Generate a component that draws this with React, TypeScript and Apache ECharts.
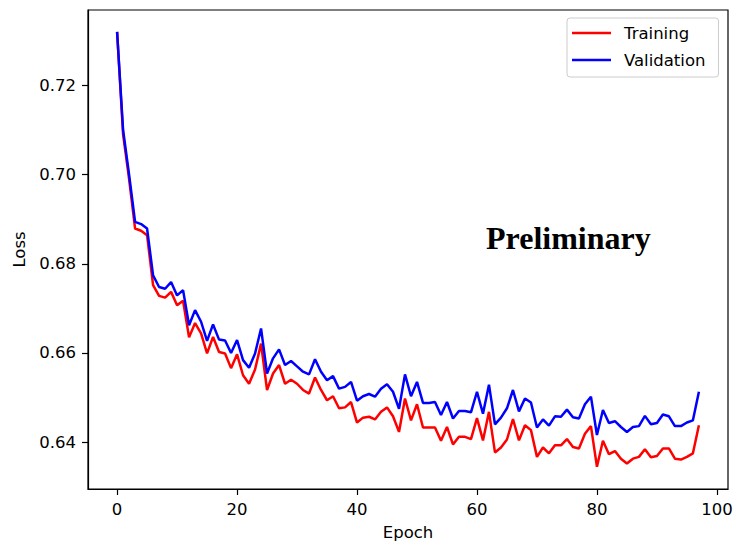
import React, { useEffect, useRef } from "react";
import * as echarts from "echarts";

const trainingLoss = [
  0.7320, 0.7090, 0.6990, 0.6879, 0.6874, 0.6864, 0.6752, 0.6728, 0.6724, 0.6737,
  0.6707, 0.6717, 0.6635, 0.6667, 0.6644, 0.6599, 0.6636, 0.6602, 0.6599, 0.6566,
  0.6597, 0.6550, 0.6531, 0.6563, 0.6621, 0.6517, 0.6554, 0.6573, 0.6531, 0.6540,
  0.6531, 0.6517, 0.6509, 0.6545, 0.6517, 0.6494, 0.6503, 0.6476, 0.6478, 0.6490,
  0.6444, 0.6455, 0.6457, 0.6451, 0.6468, 0.6478, 0.6458, 0.6423, 0.6498, 0.6449,
  0.6485, 0.6433, 0.6433, 0.6433, 0.6403, 0.6434, 0.6395, 0.6412, 0.6412, 0.6407,
  0.6454, 0.6404, 0.6468, 0.6377, 0.6388, 0.6406, 0.6452, 0.6404, 0.6438, 0.6427,
  0.6367, 0.6388, 0.6375, 0.6393, 0.6393, 0.6407, 0.6389, 0.6386, 0.6419, 0.6436,
  0.6345, 0.6403, 0.6373, 0.6380, 0.6363, 0.6352, 0.6363, 0.6367, 0.6384, 0.6366,
  0.6369, 0.6386, 0.6386, 0.6363, 0.6361, 0.6367, 0.6375, 0.6438,
];

const validationLoss = [
  0.7320, 0.7100, 0.7000, 0.6894, 0.6889, 0.6879, 0.6774, 0.6748, 0.6744, 0.6759,
  0.6729, 0.6741, 0.6662, 0.6696, 0.6670, 0.6627, 0.6664, 0.6630, 0.6628, 0.6600,
  0.6629, 0.6584, 0.6567, 0.6599, 0.6655, 0.6554, 0.6588, 0.6608, 0.6573, 0.6582,
  0.6570, 0.6558, 0.6552, 0.6586, 0.6558, 0.6539, 0.6548, 0.6520, 0.6524, 0.6535,
  0.6493, 0.6503, 0.6508, 0.6502, 0.6520, 0.6530, 0.6513, 0.6475, 0.6552, 0.6503,
  0.6535, 0.6488, 0.6488, 0.6490, 0.6461, 0.6490, 0.6453, 0.6470, 0.6470, 0.6467,
  0.6513, 0.6464, 0.6529, 0.6440, 0.6455, 0.6476, 0.6517, 0.6469, 0.6498, 0.6489,
  0.6433, 0.6451, 0.6437, 0.6458, 0.6457, 0.6473, 0.6456, 0.6453, 0.6485, 0.6502,
  0.6416, 0.6472, 0.6443, 0.6447, 0.6434, 0.6423, 0.6434, 0.6436, 0.6459, 0.6440,
  0.6443, 0.6462, 0.6458, 0.6436, 0.6436, 0.6444, 0.6449, 0.6513,
];

const xTicks = [0, 20, 40, 60, 80, 100];
const yTicks = [0.64, 0.66, 0.68, 0.7, 0.72];
const seriesNames = ["Training", "Validation"];
const annotation = "Preliminary";

export default function App() {
  const ref = useRef<HTMLDivElement>(null);

  useEffect(() => {
    if (!ref.current) return;
    const chart = echarts.init(ref.current, null, { renderer: "svg" });
    const font = "DejaVu Sans";
    const toData = (arr: number[]) => arr.map((v, i) => [i, v]);

    chart.setOption({
      animation: false,
      backgroundColor: "#ffffff",
      grid: {
        left: 88,
        top: 10,
        width: 640,
        height: 479,
        show: true,
        borderColor: "#000000",
        borderWidth: 1.2,
        backgroundColor: "transparent",
        outerBoundsMode: "none",
        containLabel: false,
      },
      legend: {
        orient: "vertical",
        left: 567,
        top: 18,
        data: seriesNames,
        icon: "rect",
        itemWidth: 39,
        itemHeight: 2.5,
        itemGap: 10,
        padding: [6.5, 13, 8.5, 5],
        backgroundColor: "#ffffff",
        borderColor: "#cccccc",
        borderWidth: 1,
        borderRadius: 3,
        textStyle: {
          fontFamily: font,
          fontSize: 16.5,
          color: "#000000",
          padding: [0, 0, 0, 8],
        },
      },
      xAxis: {
        type: "value",
        min: -4.85,
        max: 101.85,
        name: "Epoch",
        nameLocation: "middle",
        nameGap: 35,
        nameTextStyle: { fontFamily: font, fontSize: 16.5, color: "#000" },
        axisLine: { show: true, onZero: false, lineStyle: { color: "#000", width: 1.2 } },
        axisTick: {
          show: true,
          length: 6,
          customValues: xTicks,
          lineStyle: { color: "#000", width: 1.2 },
        },
        axisLabel: {
          customValues: xTicks,
          margin: 12,
          fontFamily: font,
          fontSize: 16.5,
          color: "#000",
          formatter: (v: number) => String(v),
        },
        splitLine: { show: false },
      },
      yAxis: {
        type: "value",
        min: 0.6295,
        max: 0.7369,
        name: "Loss",
        nameLocation: "middle",
        nameGap: 59,
        nameTextStyle: { fontFamily: font, fontSize: 16.5, color: "#000" },
        axisLine: { show: true, onZero: false, lineStyle: { color: "#000", width: 1.2 } },
        axisTick: {
          show: true,
          length: 6,
          customValues: yTicks,
          lineStyle: { color: "#000", width: 1.2 },
        },
        axisLabel: {
          customValues: yTicks,
          margin: 12,
          fontFamily: font,
          fontSize: 16.5,
          color: "#000",
          formatter: (v: number) => v.toFixed(2),
        },
        splitLine: { show: false },
      },
      series: [
        {
          name: seriesNames[0],
          type: "line",
          data: toData(trainingLoss),
          symbol: "none",
          lineStyle: { color: "#ff0000", width: 2.5 },
          itemStyle: { color: "#ff0000" },
          z: 2,
        },
        {
          name: seriesNames[1],
          type: "line",
          data: toData(validationLoss),
          symbol: "none",
          lineStyle: { color: "#0000ff", width: 2.5 },
          itemStyle: { color: "#0000ff" },
          z: 3,
        },
      ],
      graphic: [
        {
          type: "text",
          x: 486,
          y: 238,
          style: {
            text: annotation,
            font: 'bold 32px "Liberation Serif"',
            fill: "#000000",
            verticalAlign: "middle",
            align: "left",
          },
        },
      ],
    });

    return () => chart.dispose();
  }, []);

  return (
    <div
      ref={ref}
      style={{ position: "fixed", left: 0, top: 0, width: 736, height: 542 }}
    />
  );
}
